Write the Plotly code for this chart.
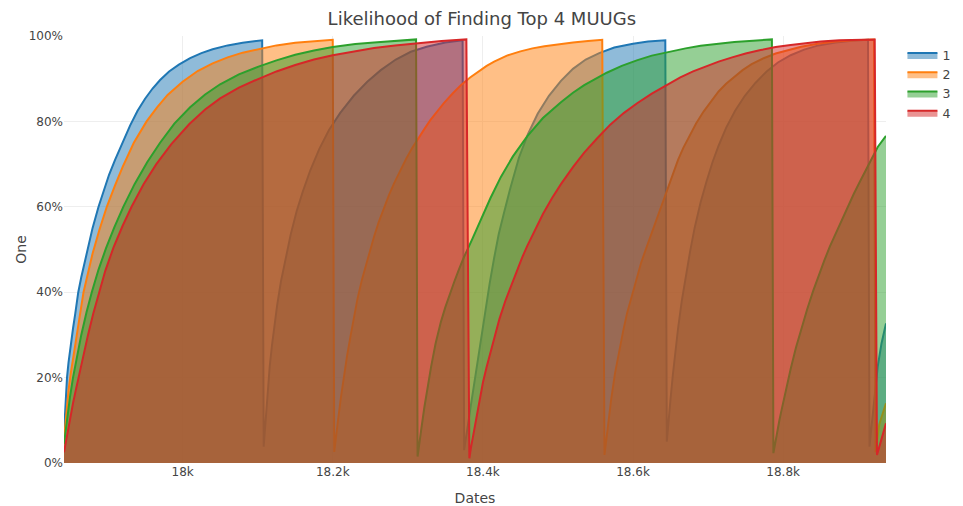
import plotly.graph_objects as go

# ---- data (x = day number, y = percent) ----
s1_x = [17842, 17844, 17846, 17848, 17851, 17854, 17857, 17861, 17865, 17870, 17875, 17880, 17888, 17895, 17902, 17910, 17920, 17930,
        17940, 17950, 17960, 17970, 17982, 17995, 18010, 18025, 18040, 18060, 18080, 18106,
        18108, 18110, 18112, 18114, 18116, 18119, 18122, 18126, 18131, 18137, 18144, 18152, 18160, 18170, 18182, 18195, 18210,
        18228, 18246, 18264, 18284, 18304, 18325, 18350, 18373,
        18375, 18378, 18381, 18384, 18387, 18390, 18394, 18398, 18403, 18409, 18415, 18421, 18428, 18436, 18448, 18460, 18473,
        18488, 18504, 18520, 18537, 18555, 18575, 18600, 18620, 18643,
        18645, 18647, 18650, 18653, 18656, 18660, 18665, 18670, 18676, 18682, 18690, 18698, 18706, 18714, 18724, 18736, 18749,
        18763, 18778, 18793, 18810, 18828, 18847, 18870, 18892, 18913,
        18915, 18918, 18922, 18926, 18931, 18937]
s1_y = [7, 14, 20, 23.5, 28, 31.5, 35, 40, 43.5, 47.5, 51.5, 55, 60, 64, 67.5, 71, 75, 79,
        82.5, 85.3, 87.7, 89.7, 91.7, 93.3, 94.8, 96, 96.9, 97.8, 98.4, 99,
        3.8, 9, 14, 18.5, 22.5, 27.5, 32, 37, 42.5, 48, 53.5, 59, 63.5, 68.5, 73.5, 78, 82,
        86, 89.3, 92, 94.5, 96.3, 97.5, 98.5, 99,
        3, 6, 10, 13.5, 17, 20.5, 25, 30, 36, 42, 48, 53.5, 58.5, 64, 71.5, 77, 81.8,
        86, 89.5, 92.3, 94.5, 96, 97.3, 98.2, 98.7, 99,
        5, 9.5, 15, 20.5, 25.5, 31.5, 38, 43.5, 49.5, 55, 61, 66, 70.5, 74.3, 78.5, 82.5, 86,
        89, 91.7, 93.8, 95.5, 96.8, 97.8, 98.5, 98.9, 99.1,
        3.8, 9, 16, 22.6, 28, 32.7]

s2_x = [17842, 17844, 17846, 17848, 17851, 17854, 17858, 17863, 17868, 17874, 17880, 17889, 17899, 17910, 17920, 17935, 17952,
        17966, 17980, 18000, 18020, 18040, 18060, 18080, 18102, 18125, 18150, 18175, 18200,
        18202, 18204, 18207, 18211, 18215, 18219, 18224, 18228, 18233, 18239, 18245, 18250, 18255, 18261, 18268, 18275, 18282,
        18290, 18298, 18306, 18313, 18322, 18330, 18340, 18348, 18360, 18371, 18383, 18395, 18405, 18415, 18432, 18450, 18466,
        18482, 18500, 18520, 18540, 18559,
        18562, 18564, 18567, 18571, 18576, 18581, 18587, 18592, 18598, 18604, 18611, 18618, 18625, 18633, 18640, 18647, 18653,
        18660, 18667, 18674, 18684, 18694, 18704, 18714, 18724, 18735, 18746, 18758, 18774, 18790, 18806, 18824, 18846, 18870,
        18895, 18921,
        18923, 18928, 18937]
s2_y = [5.5, 10, 14, 17, 21, 24.5, 29.5, 35, 40, 44.5, 49, 54.5, 60, 65, 69.3, 75, 80,
        83.3, 86.2, 89.3, 91.8, 93.6, 95, 96.1, 97, 97.8, 98.4, 98.8, 99.1,
        2.6, 6, 10, 15.5, 20.5, 25, 30, 34, 38.5, 43, 47, 50, 53, 56.3, 59.7, 62.8, 65.6,
        68.6, 71.3, 73.8, 75.8, 78.2, 80.3, 82.6, 84.3, 86.6, 88.5, 90.3, 91.8, 93, 94, 95.4, 96.4, 97.1,
        97.6, 98.1, 98.5, 98.8, 99.1,
        1.9, 5, 9.5, 15, 21, 26, 31, 35, 39, 43, 47, 50.5, 54, 58, 61.5, 65, 68,
        71, 73.8, 76.3, 79.5, 82.3, 84.8, 87, 88.8, 90.5, 92, 93.4, 94.8, 95.9, 96.7, 97.5, 98.2, 98.7,
        99, 99.2,
        2.5, 9, 14]

s3_x = [17842, 17844, 17846, 17850, 17854, 17859, 17865, 17872, 17879, 17888, 17898, 17909, 17921, 17936, 17953, 17970, 17989,
        18010, 18030, 18050, 18075, 18102, 18125, 18150, 18175, 18200, 18230, 18255, 18283, 18311,
        18313, 18315, 18318, 18322, 18326, 18331, 18337, 18344, 18350, 18356, 18362, 18368, 18375, 18386, 18397, 18410, 18424,
        18440, 18459, 18480, 18504, 18520, 18535, 18550, 18565, 18585, 18605, 18625, 18647, 18670, 18690, 18712, 18735, 18760, 18785,
        18787, 18789, 18792, 18795, 18798, 18803, 18810, 18817, 18824, 18832, 18840, 18848, 18855, 18862, 18870, 18878, 18886,
        18894, 18902, 18910, 18917, 18926, 18937]
s3_y = [4.5, 7.5, 10, 15.5, 20, 25, 30, 35.3, 40, 45.3, 50.3, 55.2, 60, 65.3, 70.5, 75, 79.5,
        83.3, 86.3, 88.7, 91, 92.9, 94.3, 95.6, 96.6, 97.4, 98.1, 98.5, 98.9, 99.2,
        1.5, 4.5, 8, 13, 17.5, 22.5, 28, 33, 36.5, 39.7, 42.5, 45.3, 48.3, 52.5, 57, 62, 67,
        71.8, 76.5, 80.8, 84.5, 86.7, 88.5, 90, 91.4, 93, 94.3, 95.4, 96.3, 97.1, 97.7, 98.2, 98.6, 98.9, 99.2,
        2.3, 4.5, 7.5, 10, 12.5, 16.8, 22, 27, 31.5, 36, 40.3, 44.3, 47.5, 50.6, 53.8, 57, 60,
        63, 65.8, 68.6, 71, 74, 76.6]

s4_x = [17842, 17844, 17847, 17850, 17854, 17858, 17862, 17868, 17874, 17881, 17888, 17897, 17908, 17920, 17932, 17948, 17965,
        17985, 18009, 18030, 18050, 18075, 18099, 18125, 18150, 18175, 18200, 18230, 18255, 18283, 18311, 18345, 18378,
        18382, 18384, 18388, 18391, 18395, 18400, 18405, 18410, 18415, 18422, 18430, 18437, 18445, 18452, 18459, 18469, 18480,
        18492, 18504, 18520, 18535, 18552, 18570, 18588, 18605, 18625, 18647, 18663, 18680, 18697, 18714, 18732, 18750, 18770,
        18790, 18810, 18830, 18850, 18875, 18900, 18922,
        18925, 18931, 18937]
s4_y = [2.5, 4.5, 7.5, 10.3, 14, 17.3, 20.5, 25.5, 30, 35, 39.5, 45, 50.5, 55.5, 60, 65.3, 70,
        74.7, 79.4, 82.8, 85.4, 87.9, 89.8, 91.7, 93.2, 94.5, 95.5, 96.5, 97.2, 97.8, 98.3, 98.8, 99.2,
        1.1, 3.5, 7.5, 10.5, 14.3, 18.8, 22.5, 26, 29.5, 33.7, 38, 41.3, 45, 48, 50.8, 54.5, 58.3,
        62, 65.3, 69.3, 72.7, 76, 79.3, 82, 84.2, 86.5, 88.8, 90.3, 91.7, 92.9, 94, 95, 95.9, 96.7,
        97.4, 97.9, 98.3, 98.7, 99, 99.1, 99.2,
        1.9, 5.5, 9.3]

series_names = ["1", "2", "3", "4"]
series_x = [s1_x, s2_x, s3_x, s4_x]
series_y = [s1_y, s2_y, s3_y, s4_y]

title_text = "Likelihood of Finding Top 4 MUUGs"
x_title = "Dates"
y_title = "One"

fig = go.Figure()
for name, xs, ys in zip(series_names, series_x, series_y):
    fig.add_trace(go.Scatter(
        x=xs, y=[v / 100 for v in ys], name=name,
        mode="lines", fill="tozeroy", line=dict(width=2),
    ))

fig.update_layout(
    width=975, height=498,
    template="none",
    font=dict(family="DejaVu Sans, Verdana, sans-serif", size=12, color="#444"),
    title=dict(text=title_text, x=0.486, xanchor="center", y=0.979, yanchor="middle",
               font=dict(size=18, color="#444")),
    margin=dict(l=56, r=97, t=28, b=43),
    paper_bgcolor="white", plot_bgcolor="white",
    legend=dict(x=1.02, y=0.99, xanchor="left", yanchor="top", font=dict(size=12.5)),
    colorway=["#1f77b4", "#ff7f0e", "#2ca02c", "#d62728"],
)
fig.update_xaxes(title=dict(text=x_title, font=dict(size=14)), showgrid=True, gridcolor="#eee",
                 zeroline=False, showline=False, ticks="", autorange=True)
fig.update_yaxes(title=dict(text=y_title, font=dict(size=14)), range=[0, 1.0], tickformat=".0%",
                 dtick=0.2, showgrid=True, gridcolor="#eee", zeroline=False, showline=False, ticks="")

fig.write_html("out.html")
